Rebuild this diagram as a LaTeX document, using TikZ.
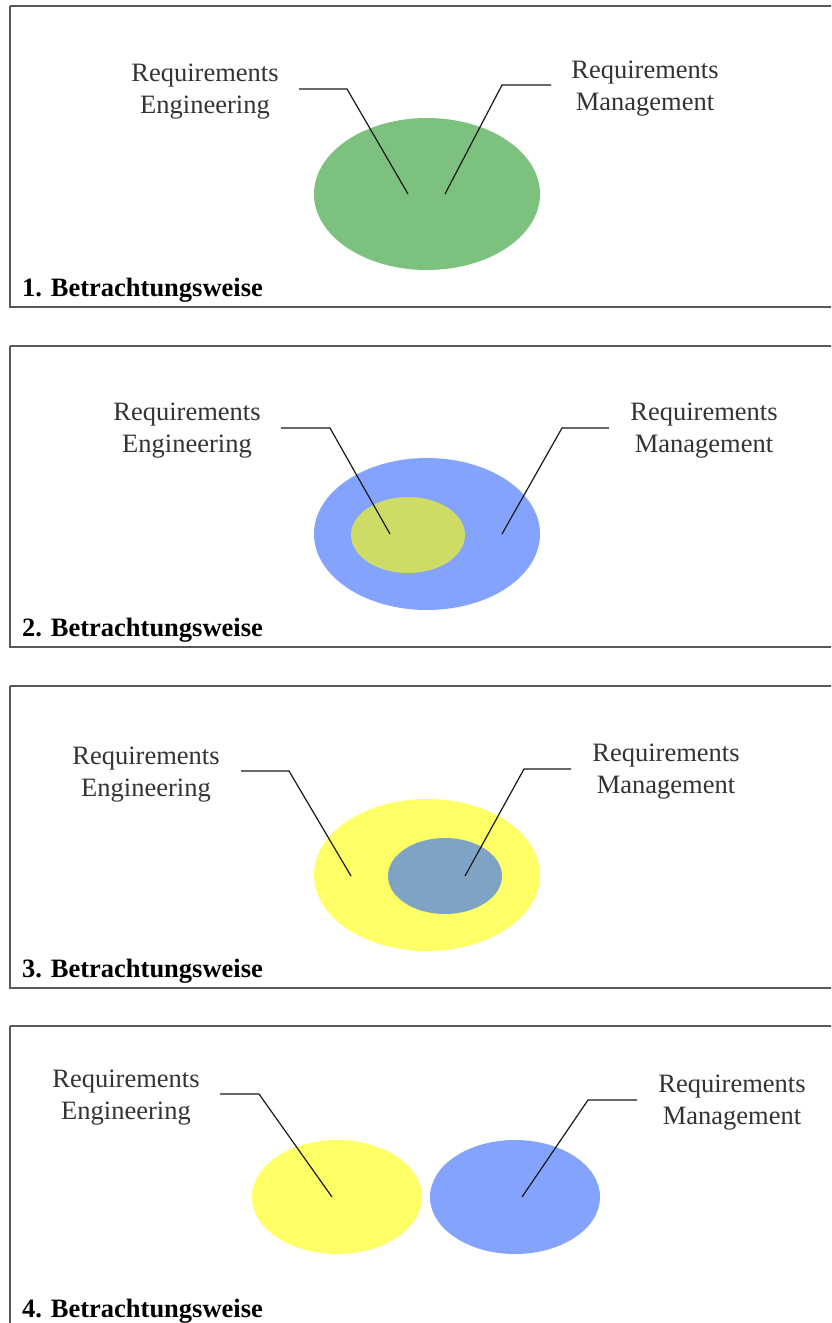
\documentclass[tikz,border=0pt]{standalone}
\usepackage{fontspec}
\setmainfont{Liberation Serif}
\begin{document}
\begin{tikzpicture}[x=1pt,y=-1pt,
  panel/.style={draw=black!65,line width=1.4pt},
  lbl/.style={align=center,text=black!80,font=\fontsize{26.5}{32}\selectfont,inner sep=0pt},
  title/.style={anchor=west,font=\fontsize{26.5}{32}\selectfont\bfseries,inner sep=0pt},
  leader/.style={draw=black!90,line width=1.2pt}]
\definecolor{cGreen}{HTML}{7CC17D}
\definecolor{cBlue}{HTML}{84A3FC}
\definecolor{cLime}{HTML}{CEDC66}
\definecolor{cSteel}{HTML}{7EA3C5}
\definecolor{cYellow}{HTML}{FFFF66}
\useasboundingbox (0,0) rectangle (831,1323);
\clip (0,0) rectangle (831,1323);

% ---------- panel 1 ----------
\draw[panel] (10,6) -- (840,6) (10,6) -- (10,307) -- (840,307);
\fill[cGreen] (427,194) ellipse [x radius=113, y radius=76];
\node[lbl] (re1) at (205,92) {Requirements\\Engineering};
\node[lbl] (rm1) at (645,89) {Requirements\\Management};
\coordinate (re1a) at (299,89); \coordinate (re1b) at (347,89); \coordinate (re1c) at (408,194);
\coordinate (rm1a) at (551,85); \coordinate (rm1b) at (502,85); \coordinate (rm1c) at (445,194);
\draw[leader] (re1a) -- (re1b) -- (re1c);
\draw[leader] (rm1a) -- (rm1b) -- (rm1c);
\node[title] (t1) at (22,290) {1. Betrachtungsweise};

% ---------- panel 2 ----------
\draw[panel] (10,346) -- (840,346) (10,346) -- (10,647) -- (840,647);
\fill[cBlue] (427,534) ellipse [x radius=113, y radius=76];
\fill[cLime] (408,535) ellipse [x radius=57, y radius=38];
\node[lbl] (re2) at (187,431) {Requirements\\Engineering};
\node[lbl] (rm2) at (704,431) {Requirements\\Management};
\coordinate (re2a) at (281,428); \coordinate (re2b) at (330,428); \coordinate (re2c) at (390,534);
\coordinate (rm2a) at (609,428); \coordinate (rm2b) at (562,428); \coordinate (rm2c) at (502,534);
\draw[leader] (re2a) -- (re2b) -- (re2c);
\draw[leader] (rm2a) -- (rm2b) -- (rm2c);
\node[title] (t2) at (22,630) {2. Betrachtungsweise};

% ---------- panel 3 ----------
\draw[panel] (10,686) -- (840,686) (10,686) -- (10,988) -- (840,988);
\fill[cYellow] (427,875) ellipse [x radius=113, y radius=76];
\fill[cSteel] (445,876) ellipse [x radius=57, y radius=38];
\node[lbl] (re3) at (146,775) {Requirements\\Engineering};
\node[lbl] (rm3) at (666,772) {Requirements\\Management};
\coordinate (re3a) at (241,771); \coordinate (re3b) at (289,771); \coordinate (re3c) at (351,876);
\coordinate (rm3a) at (571,769); \coordinate (rm3b) at (524,769); \coordinate (rm3c) at (465,876);
\draw[leader] (re3a) -- (re3b) -- (re3c);
\draw[leader] (rm3a) -- (rm3b) -- (rm3c);
\node[title] (t3) at (22,971) {3. Betrachtungsweise};

% ---------- panel 4 ----------
\draw[panel] (10,1026) -- (840,1026) (10,1026) -- (10,1340);
\fill[cYellow] (337,1197) ellipse [x radius=85, y radius=57];
\fill[cBlue] (515,1197) ellipse [x radius=85, y radius=57];
\node[lbl] (re4) at (126,1098) {Requirements\\Engineering};
\node[lbl] (rm4) at (732,1103) {Requirements\\Management};
\coordinate (re4a) at (220,1094); \coordinate (re4b) at (259,1094); \coordinate (re4c) at (332,1197);
\coordinate (rm4a) at (637,1100); \coordinate (rm4b) at (588,1100); \coordinate (rm4c) at (522,1197);
\draw[leader] (re4a) -- (re4b) -- (re4c);
\draw[leader] (rm4a) -- (rm4b) -- (rm4c);
\node[title] (t4) at (22,1311) {4. Betrachtungsweise};
\end{tikzpicture}
\end{document}
